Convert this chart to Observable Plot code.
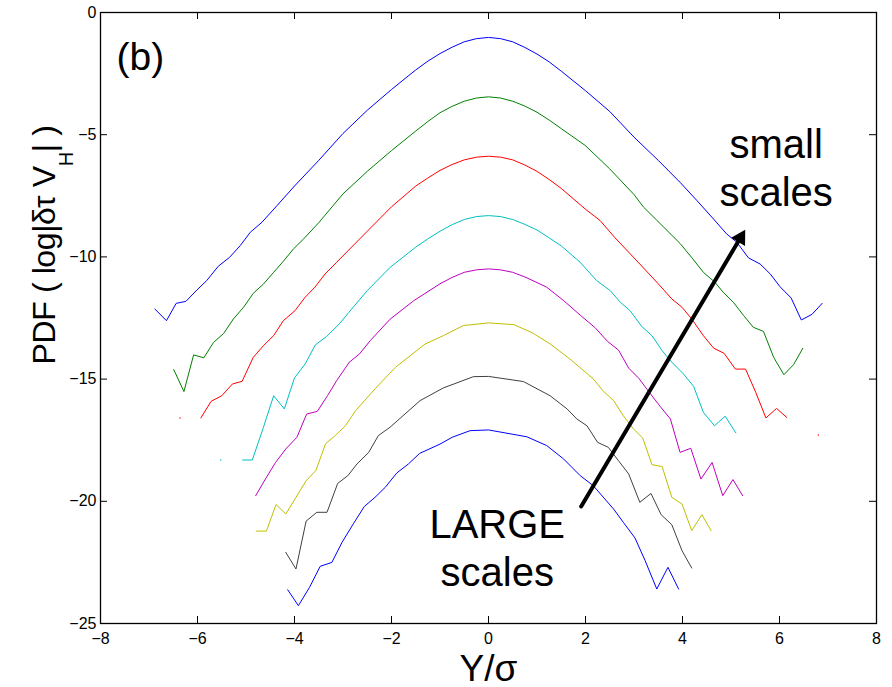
<!DOCTYPE html>
<html><head><meta charset="utf-8">
<script src="https://cdn.jsdelivr.net/npm/d3@7"></script>
<script src="https://cdn.jsdelivr.net/npm/@observablehq/plot@0.6"></script>
<style>body{margin:0;background:#fff} svg{display:block}</style>
</head><body><div id="chart"></div>
<script>
// ---- data ----
const xTicks = [-8, -6, -4, -2, 0, 2, 4, 6, 8];
const yTicks = [0, -5, -10, -15, -20, -25];

const seriesNames = ["s1", "s2", "s3", "s4", "s5", "s6", "s7", "s8"];
const seriesColors = ["#0000ff", "#008000", "#ff0000", "#00bfbf", "#bf00bf", "#bfbf00", "#404040", "#0000ff"];

const curve1 = [[-6.88,-12.13],[-6.64,-12.61],[-6.44,-11.9],[-6.24,-11.82],[-6.01,-11.35],[-5.81,-10.97],[-5.57,-10.38],[-5.34,-10.02],[-5.12,-9.54],[-4.91,-8.99],[-4.67,-8.58],[-4.36,-7.9],[-4.0,-7.1],[-3.5,-6.05],[-3.0,-4.95],[-2.5,-4.0],[-2.0,-3.15],[-1.5,-2.35],[-1.25,-1.99],[-1.0,-1.68],[-0.75,-1.42],[-0.5,-1.2],[-0.25,-1.07],[0,-1.02],[0.25,-1.07],[0.5,-1.2],[0.75,-1.43],[1.0,-1.7],[1.25,-2.02],[1.5,-2.4],[2.0,-3.2],[2.5,-4.05],[3.0,-5.1],[3.5,-6.05],[3.95,-6.95],[4.3,-7.7],[4.64,-8.45],[4.91,-9.06],[5.12,-9.4],[5.36,-10.04],[5.6,-10.29],[5.81,-10.7],[6.01,-11.22],[6.24,-11.68],[6.45,-12.58],[6.67,-12.35],[6.88,-11.9]];
const curve2 = [[-6.49,-14.61],[-6.28,-15.51],[-6.08,-14.01],[-5.87,-14.13],[-5.67,-13.5],[-5.46,-13.13],[-5.26,-12.54],[-5.05,-12.06],[-4.85,-11.49],[-4.64,-11.11],[-4.43,-10.63],[-4.23,-10.18],[-4.02,-9.67],[-3.81,-9.26],[-3.5,-8.6],[-3.0,-7.42],[-2.5,-6.5],[-2.0,-5.65],[-1.5,-4.85],[-1.25,-4.46],[-1.0,-4.1],[-0.75,-3.84],[-0.5,-3.63],[-0.25,-3.5],[0,-3.45],[0.25,-3.5],[0.5,-3.63],[0.75,-3.83],[1.0,-4.08],[1.25,-4.4],[1.5,-4.75],[2.0,-5.45],[2.5,-6.4],[3.0,-7.45],[3.2,-7.97],[3.47,-8.5],[3.95,-9.45],[4.2,-10.05],[4.43,-10.63],[4.67,-11.04],[4.84,-11.45],[5.05,-11.86],[5.26,-12.4],[5.46,-12.88],[5.67,-13.05],[5.88,-14.11],[6.09,-14.82],[6.29,-14.41],[6.48,-13.74]];
const curve3 = [[-5.93,-16.59],[-5.72,-15.91],[-5.5,-15.68],[-5.28,-15.2],[-5.08,-15.09],[-4.85,-14.11],[-4.64,-13.63],[-4.43,-13.22],[-4.23,-12.61],[-3.99,-12.2],[-3.78,-11.65],[-3.58,-11.24],[-3.37,-10.7],[-3.13,-10.22],[-2.5,-8.95],[-2.0,-7.95],[-1.5,-7.1],[-1.25,-6.77],[-1.0,-6.46],[-0.75,-6.22],[-0.5,-6.03],[-0.25,-5.92],[0,-5.88],[0.25,-5.92],[0.5,-6.03],[0.75,-6.24],[1.0,-6.5],[1.25,-6.83],[1.5,-7.2],[2.0,-8.05],[2.3,-8.51],[2.6,-9.2],[3.12,-10.29],[3.5,-11.1],[3.78,-11.72],[3.99,-12.06],[4.19,-12.54],[4.43,-13.22],[4.64,-13.73],[4.86,-13.95],[5.09,-14.59],[5.3,-14.59],[5.51,-15.54],[5.72,-16.59],[5.94,-16.2],[6.15,-16.57]];
const curve4 = [[-5.07,-18.31],[-4.87,-18.31],[-4.64,-16.97],[-4.43,-15.68],[-4.21,-16.22],[-4.0,-14.95],[-3.78,-14.38],[-3.57,-13.6],[-3.34,-13.26],[-3.08,-12.75],[-2.88,-12.27],[-2.68,-11.8],[-2.5,-11.38],[-2.03,-10.43],[-1.5,-9.6],[-1.25,-9.26],[-1.0,-8.95],[-0.75,-8.68],[-0.5,-8.47],[-0.25,-8.35],[0,-8.31],[0.25,-8.35],[0.5,-8.47],[0.75,-8.67],[1.0,-8.9],[1.25,-9.22],[1.5,-9.55],[1.89,-10.22],[2.23,-10.97],[2.51,-11.38],[2.72,-11.86],[2.92,-12.2],[3.16,-12.85],[3.37,-13.22],[3.58,-13.84],[3.78,-14.31],[4.02,-14.79],[4.23,-15.3],[4.43,-16.36],[4.66,-16.91],[4.88,-16.52],[5.1,-17.2]];
const curve5 = [[-4.8,-19.77],[-4.6,-19.09],[-4.39,-18.41],[-4.18,-17.86],[-3.95,-17.38],[-3.75,-16.43],[-3.53,-16.32],[-3.32,-15.68],[-3.13,-15.06],[-2.87,-14.31],[-2.66,-13.97],[-2.44,-13.43],[-2.03,-12.55],[-1.54,-11.79],[-1.0,-11.1],[-0.75,-10.84],[-0.5,-10.63],[-0.25,-10.53],[0,-10.49],[0.25,-10.53],[0.5,-10.63],[0.75,-10.82],[1.0,-11.05],[1.2,-11.24],[1.55,-11.79],[1.89,-12.38],[2.2,-12.9],[2.45,-13.45],[2.68,-13.81],[2.89,-14.55],[3.1,-14.97],[3.33,-15.58],[3.54,-16.12],[3.75,-16.63],[3.95,-18.0],[4.17,-17.83],[4.38,-19.09],[4.61,-18.41],[4.83,-19.77],[5.04,-19.11],[5.24,-19.77]];
const curve6 = [[-4.79,-21.22],[-4.58,-21.22],[-4.38,-20.13],[-4.18,-20.52],[-3.97,-19.84],[-3.76,-19.16],[-3.56,-18.74],[-3.36,-17.65],[-3.16,-17.31],[-2.95,-16.91],[-2.74,-16.29],[-2.34,-15.4],[-1.92,-14.52],[-1.31,-13.57],[-0.93,-13.22],[-0.52,-12.81],[0,-12.7],[0.52,-12.77],[0.9,-13.1],[1.27,-13.56],[1.68,-14.18],[2.16,-14.99],[2.37,-15.5],[2.58,-15.88],[2.78,-16.5],[2.99,-17.04],[3.18,-17.41],[3.37,-18.5],[3.58,-18.58],[3.78,-19.84],[3.99,-20.11],[4.19,-21.2],[4.4,-20.55],[4.59,-21.2]];
const curve7 = [[-4.18,-22.09],[-3.97,-22.77],[-3.76,-20.81],[-3.54,-20.45],[-3.33,-20.45],[-3.11,-19.27],[-2.9,-18.95],[-2.71,-18.47],[-2.47,-18.0],[-2.27,-17.31],[-2.03,-16.97],[-1.41,-15.88],[-0.93,-15.36],[-0.31,-14.9],[0,-14.89],[0.72,-15.1],[1.27,-15.68],[1.62,-16.22],[1.82,-16.63],[2.03,-16.91],[2.25,-17.59],[2.47,-17.79],[2.68,-18.34],[2.89,-18.88],[3.12,-20.04],[3.35,-19.68],[3.56,-20.55],[3.78,-20.96],[3.99,-22.02],[4.19,-22.73]];
const curve8 = [[-4.14,-23.62],[-3.92,-24.27],[-3.69,-23.52],[-3.47,-22.66],[-3.23,-22.5],[-3.02,-21.68],[-2.78,-20.9],[-2.56,-20.21],[-2.34,-19.84],[-2.13,-19.43],[-1.89,-18.84],[-1.65,-18.47],[-1.42,-18.04],[-1.0,-17.66],[-0.75,-17.38],[-0.38,-17.11],[0,-17.08],[0.79,-17.36],[1.2,-17.72],[1.55,-18.27],[1.89,-18.95],[2.16,-19.36],[2.58,-20.32],[2.78,-20.86],[3.02,-21.5],[3.23,-22.43],[3.47,-23.59],[3.7,-22.7],[3.92,-23.59]];

// isolated single samples (no neighbours)
const isolatedX = [-6.36, 6.8, -5.52];
const isolatedY = [-16.59, -17.29, -18.31];
const isolatedSeries = [2, 2, 3];

// annotation arrow (data coordinates)
const arrowFrom = [1.91, -20.21];
const arrowTo = [5.29, -8.9];

const noteText = ["small\nscales", "LARGE\nscales"];
const noteX = [5.93, 0.18];
const noteY = [-7.9, -23.45];

// ---- build ----
const curves = [curve1, curve2, curve3, curve4, curve5, curve6, curve7, curve8];
const rows = curves.flatMap((c, i) => c.map(([x, y]) => ({series: seriesNames[i], color: seriesColors[i], x, y})));
const dots = isolatedX.map((x, i) => ({x, y: isolatedY[i], color: seriesColors[isolatedSeries[i]]}));
const notes = noteText.map((t, i) => ({t, x: noteX[i], y: noteY[i]}));
const arrow = [{x1: arrowFrom[0], y1: arrowFrom[1], x2: arrowTo[0], y2: arrowTo[1]}];

const W = 892, H = 687, mL = 100, mR = 16, mT = 12, mB = 64;
const fw = W - mL - mR, fh = H - mT - mB, tl = 7;

const svg = Plot.plot({
  width: W, height: H,
  marginLeft: mL, marginRight: mR, marginTop: mT, marginBottom: mB,
  style: {fontFamily: "Liberation Sans, Arial, Helvetica, sans-serif", fontSize: "16px", color: "#000", background: "#fff"},
  x: {domain: [-8, 8]},
  y: {domain: [-25, 0]},
  marks: [
    Plot.axisX({ticks: xTicks, tickSize: 0, tickPadding: 9, label: null}),
    Plot.axisY({ticks: yTicks, tickSize: 0, tickPadding: 4, label: null}),
    Plot.tickX(xTicks, {x: d => d, insetTop: fh - tl, stroke: "#000"}),
    Plot.tickX(xTicks, {x: d => d, insetBottom: fh - tl, stroke: "#000"}),
    Plot.tickY(yTicks, {y: d => d, insetRight: fw - tl, stroke: "#000"}),
    Plot.tickY(yTicks, {y: d => d, insetLeft: fw - tl, stroke: "#000"}),
    Plot.frame({stroke: "#000", strokeWidth: 1.3}),
    ...seriesNames.map((s, i) => Plot.line(rows.filter(r => r.series === s), {x: "x", y: "y", stroke: seriesColors[i], strokeWidth: 1})),
    Plot.dot(dots, {x: "x", y: "y", r: 0.7, fill: "color", stroke: null}),
    Plot.arrow(arrow, {x1: "x1", y1: "y1", x2: "x2", y2: "y2", headLength: 0, insetEnd: 9, stroke: "#000", strokeWidth: 4}),
    Plot.dot(arrow, {x: "x2", y: "y2", symbol: "triangle", r: 6, fill: "#000", stroke: null, rotate: 30.7, dx: -4.6, dy: 7.8}),
    Plot.text(notes, {x: "x", y: "y", text: "t", fontSize: 40, lineAnchor: "bottom", lineHeight: 1.18, textAnchor: "middle", fill: "#000"}),
    Plot.text(["(b)"], {text: d => d, frameAnchor: "top-left", dx: 16, dy: 30, fontSize: 39, lineAnchor: "top", textAnchor: "start", fill: "#000"}),
    Plot.text(["Y/σ"], {text: d => d, frameAnchor: "bottom", dy: 57, fontSize: 37, lineAnchor: "bottom", fill: "#000"})
  ]
});

// y-axis label with subscript
const yl = d3.select(svg).append("text")
  .attr("transform", "translate(55,245) rotate(-90)")
  .attr("text-anchor", "middle")
  .attr("font-size", 32)
  .attr("letter-spacing", "-0.4px")
  .attr("fill", "#000");
yl.append("tspan").text("PDF ( log|δτ V");
yl.append("tspan").attr("font-size", 20).attr("dy", 18).text("H");
yl.append("tspan").attr("dy", -18).text("| )");

document.getElementById("chart").appendChild(svg);
</script>
</body></html>
